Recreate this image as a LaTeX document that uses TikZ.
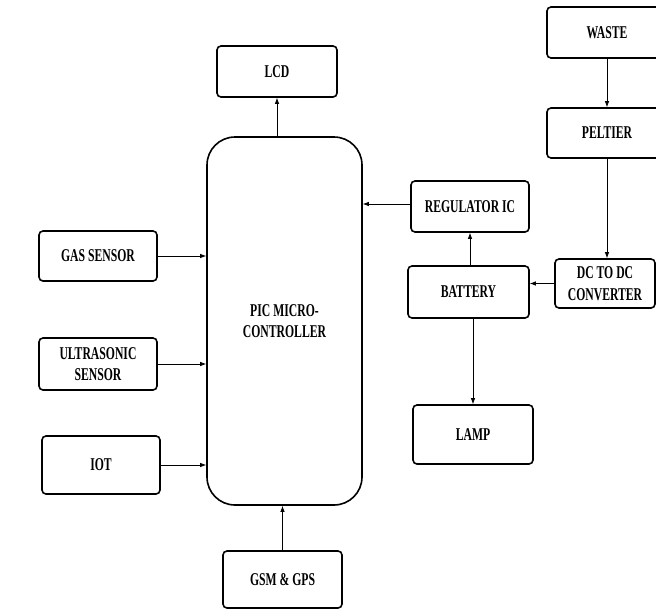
\documentclass[tikz,border=0pt]{standalone}
\usepackage{fontspec}
\usepackage{tikz}
\usetikzlibrary{arrows.meta}
\newfontfamily\blockfont[FakeStretch=0.65]{Liberation Serif}
\tikzset{
  font={\blockfont\bfseries\fontsize{18pt}{21.5pt}\selectfont},
  blk/.style={draw=black, line width=1.6pt, rounded corners=4pt, align=center, fill=white},
  arr/.style={draw=black, line width=0.8pt, -{Latex[length=6pt,width=4.5pt]}}}

\begin{document}
\begin{tikzpicture}[x=1pt,y=-1pt]
\tikzstyle{every node}+=[inner sep=0pt]
\clip (0,0) rectangle (656,611);
\fill [white] (0,0) rectangle (656,611);
% controller and its inputs
\node [blk, rounded corners=28pt, minimum width=155pt, minimum height=368pt] (mcu) at (284.5,321) {PIC MICRO-\\CONTROLLER};
\node [blk, minimum width=120pt, minimum height=51pt] (lcd) at (277,71.5) {LCD};
\node [blk, minimum width=118pt, minimum height=50pt] (gas) at (98,256) {GAS SENSOR};
\node [blk, minimum width=118pt, minimum height=52pt] (ultra) at (98,364) {ULTRASONIC\\SENSOR};
\node [blk, minimum width=118pt, minimum height=58pt] (iot) at (101,465) {IOT};
\node [blk, minimum width=119pt, minimum height=57pt] (gsm) at (282.5,579.5) {GSM \& GPS};
% power side
\node [blk, minimum width=120pt, minimum height=51pt] (waste) at (607,32.5) {WASTE};
\node [blk, minimum width=120pt, minimum height=50pt] (peltier) at (607,133) {PELTIER};
\node [blk, minimum width=100pt, minimum height=49pt] (dcdc) at (605,283.5) {DC TO DC\\CONVERTER};
\node [blk, minimum width=121pt, minimum height=52pt] (battery) at (468.5,292) {BATTERY};
\node [blk, minimum width=118pt, minimum height=51pt] (reg) at (470,206.5) {REGULATOR IC};
\node [blk, minimum width=120pt, minimum height=59pt] (lamp) at (473,434.5) {LAMP};
% connections
\draw [arr] (mcu.north -| lcd.south) -- (lcd.south);
\draw [arr] (gas.east) -- (gas.east -| mcu.west);
\draw [arr] (ultra.east) -- (ultra.east -| mcu.west);
\draw [arr] (iot.east) -- (iot.east -| mcu.west);
\draw [arr] (gsm.north) -- (gsm.north |- mcu.south);
\draw [arr] (waste.south) -- (peltier.north);
\draw [arr] (peltier.south) -- (peltier.south |- dcdc.north);
\draw [arr] (dcdc.west) -- (dcdc.west -| battery.east);
\draw [arr] (reg.south |- battery.north) -- (reg.south);
\draw [arr] ([yshift=2.5pt]reg.west) -- ([yshift=2.5pt]reg.west -| mcu.east);
\draw [arr] (battery.south -| lamp.north) -- (lamp.north);
\end{tikzpicture}
\end{document}
